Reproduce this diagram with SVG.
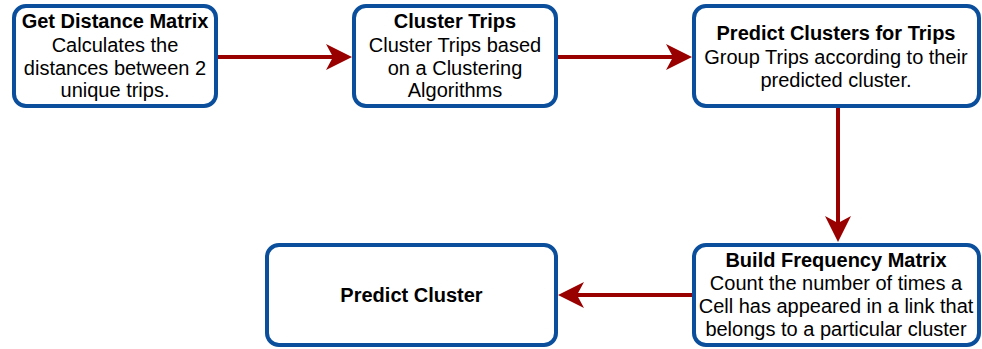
<svg xmlns="http://www.w3.org/2000/svg" width="982" height="349" viewBox="0 0 982 349">
  <style>
    .box { fill: #ffffff; stroke: #0b4f9c; stroke-width: 4; }
    .t { font-family: "Liberation Sans", Arial, sans-serif; font-size: 20px; fill: #000000; text-anchor: middle; }
    .b { font-weight: bold; }
    .link { stroke: #990000; stroke-width: 4; fill: none; marker-end: url(#head); }
  </style>
  <defs>
    <marker id="head" markerUnits="userSpaceOnUse" viewBox="0 0 26 26" refX="7" refY="13" markerWidth="26" markerHeight="26" orient="auto">
      <path d="M26,13 L0,0 L7,13 L0,26 Z" fill="#990000"/>
    </marker>
  </defs>

  <g id="connectors">
    <line class="link" x1="218" y1="57" x2="333" y2="57"/>
    <line class="link" x1="558" y1="57" x2="673" y2="57"/>
    <line class="link" x1="838" y1="108" x2="838" y2="223"/>
    <line class="link" x1="692" y1="295" x2="577" y2="295"/>
  </g>

  <g id="get-distance-matrix">
    <rect class="box" x="14" y="6" width="202" height="100" rx="12"/>
    <text class="t b" x="115" y="28">Get Distance Matrix</text>
    <text class="t" x="115" y="52">Calculates the</text>
    <text class="t" x="115" y="75">distances between 2</text>
    <text class="t" x="115" y="97">unique trips.</text>
  </g>

  <g id="cluster-trips">
    <rect class="box" x="354" y="6" width="202" height="100" rx="12"/>
    <text class="t b" x="455" y="28">Cluster Trips</text>
    <text class="t" x="455" y="52">Cluster Trips based</text>
    <text class="t" x="455" y="75">on a Clustering</text>
    <text class="t" x="455" y="97">Algorithms</text>
  </g>

  <g id="predict-clusters-for-trips">
    <rect class="box" x="694" y="6" width="285" height="100" rx="12"/>
    <text class="t b" x="836" y="40">Predict Clusters for Trips</text>
    <text class="t" x="836" y="64">Group Trips according to their</text>
    <text class="t" x="836" y="87">predicted cluster.</text>
  </g>

  <g id="build-frequency-matrix">
    <rect class="box" x="694" y="245" width="285" height="100" rx="12"/>
    <text class="t b" x="836" y="267">Build Frequency Matrix</text>
    <text class="t" x="836" y="290">Count the number of times a</text>
    <text class="t" x="836" y="313">Cell has appeared in a link that</text>
    <text class="t" x="836" y="336">belongs to a particular cluster</text>
  </g>

  <g id="predict-cluster">
    <rect class="box" x="267" y="245" width="289" height="100" rx="12"/>
    <text class="t b" x="411.5" y="302">Predict Cluster</text>
  </g>
</svg>
